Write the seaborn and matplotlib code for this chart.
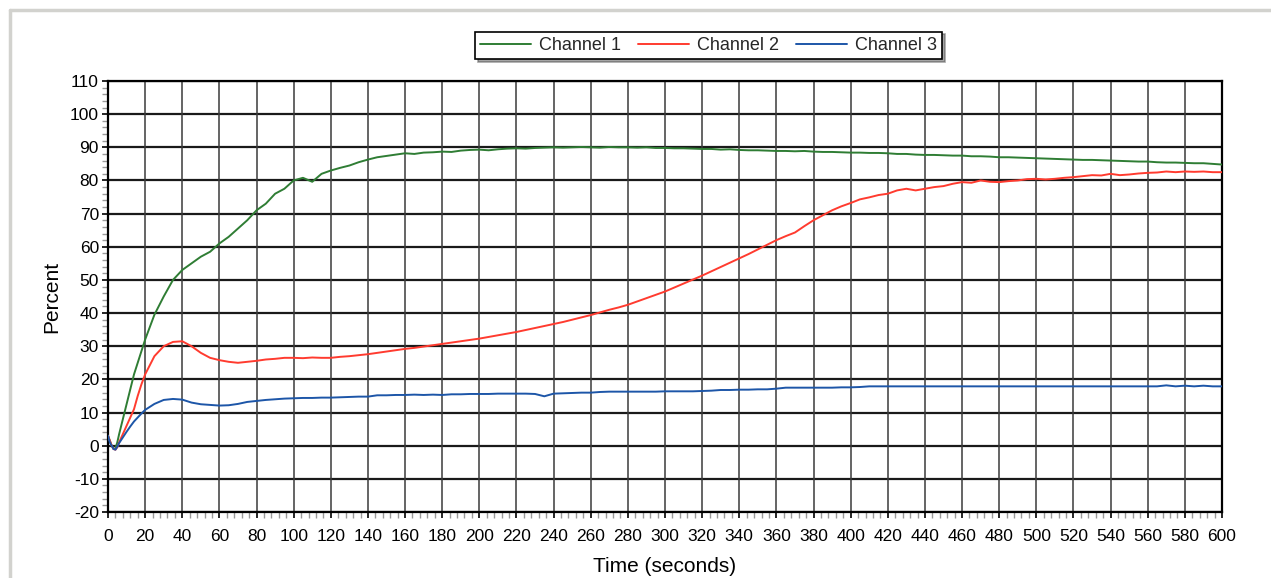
import matplotlib
matplotlib.use("Agg")
import matplotlib.pyplot as plt
from matplotlib.lines import Line2D
from matplotlib.ticker import MultipleLocator
import seaborn as sns
import pandas as pd

# ---------------- data ----------------
time_s = [0, 1, 2, 3, 4, 5, 6, 8, 10, 12, 14, 16, 18] + list(range(20, 601, 5))

channel1 = [3.0, 1.5, 0.0, -1.0, -0.8, 1.0, 3.5, 8.0, 12.5, 17.0, 21.5, 25.0, 28.5,
            32.0, 39.5, 45.0, 50.0, 53.0, 55.0, 57.0, 58.5, 61.0, 63.0, 65.5, 68.0,
            71.0, 73.0, 76.0, 77.5, 80.0, 80.8, 79.6, 82.0, 83.0, 83.8, 84.5, 85.5,
            86.3, 87.0, 87.4, 87.8, 88.2, 88.0, 88.4, 88.5, 88.7, 88.6, 89.0, 89.2,
            89.3, 89.1, 89.4, 89.6, 89.7, 89.6, 89.8, 89.9, 90.0, 89.9, 90.0, 90.1,
            90.0, 89.9, 90.1, 90.0, 90.0, 89.9, 90.0, 89.8, 89.8, 89.7, 89.7, 89.6,
            89.5, 89.5, 89.3, 89.4, 89.2, 89.1, 89.1, 89.0, 88.9, 88.9, 88.8, 88.9,
            88.7, 88.6, 88.6, 88.5, 88.4, 88.4, 88.3, 88.3, 88.2, 88.0, 88.0, 87.8,
            87.7, 87.7, 87.6, 87.5, 87.5, 87.3, 87.3, 87.2, 87.0, 87.0, 86.9, 86.8,
            86.7, 86.6, 86.5, 86.4, 86.3, 86.2, 86.2, 86.1, 86.0, 85.9, 85.8, 85.7,
            85.7, 85.5, 85.4, 85.4, 85.3, 85.2, 85.2, 85.0, 84.8]

channel2 = [3.0, 1.5, 0.0, -1.0, -1.2, -0.5, 1.0, 3.5, 6.0, 8.5, 11.0, 15.0, 18.5,
            21.5, 27.0, 30.0, 31.3, 31.5, 30.0, 28.0, 26.5, 25.8, 25.3, 25.0, 25.3,
            25.6, 26.0, 26.2, 26.5, 26.5, 26.4, 26.6, 26.5, 26.5, 26.8, 27.0, 27.3,
            27.6, 28.0, 28.4, 28.8, 29.2, 29.5, 29.9, 30.3, 30.7, 31.1, 31.5, 31.9,
            32.3, 32.8, 33.3, 33.8, 34.3, 34.9, 35.5, 36.1, 36.7, 37.3, 38.0, 38.7,
            39.4, 40.2, 41.0, 41.7, 42.5, 43.5, 44.5, 45.5, 46.5, 47.7, 48.9, 50.1,
            51.3, 52.6, 53.9, 55.2, 56.5, 57.8, 59.2, 60.6, 62.0, 63.2, 64.3, 66.2,
            68.0, 69.5, 71.0, 72.2, 73.2, 74.3, 74.9, 75.6, 76.0, 77.0, 77.5, 77.0,
            77.5, 78.0, 78.3, 79.0, 79.5, 79.3, 80.0, 79.6, 79.5, 79.8, 80.0, 80.4,
            80.5, 80.3, 80.5, 80.8, 81.0, 81.3, 81.6, 81.5, 82.0, 81.6, 81.8, 82.1,
            82.3, 82.4, 82.7, 82.5, 82.7, 82.6, 82.7, 82.5, 82.5]

channel3 = [3.0, 1.0, 0.0, -1.0, -1.2, -0.3, 0.8, 2.5, 4.2, 5.8, 7.3, 8.5, 9.7,
            10.8, 12.6, 13.8, 14.1, 13.9, 13.0, 12.5, 12.3, 12.1, 12.2, 12.6, 13.2,
            13.5, 13.8, 14.0, 14.2, 14.3, 14.4, 14.4, 14.5, 14.5, 14.6, 14.7, 14.8,
            14.8, 15.2, 15.2, 15.3, 15.3, 15.4, 15.3, 15.4, 15.3, 15.5, 15.5, 15.6,
            15.6, 15.6, 15.7, 15.7, 15.7, 15.7, 15.6, 14.9, 15.7, 15.8, 15.9, 16.0,
            16.0, 16.2, 16.3, 16.3, 16.3, 16.3, 16.3, 16.3, 16.4, 16.4, 16.4, 16.4,
            16.5, 16.6, 16.8, 16.8, 16.9, 16.9, 17.0, 17.0, 17.2, 17.5, 17.5, 17.5,
            17.5, 17.5, 17.5, 17.6, 17.6, 17.7, 17.9, 17.9, 17.9, 17.9, 17.9, 17.9,
            17.9, 17.9, 17.9, 17.9, 17.9, 17.9, 17.9, 17.9, 17.9, 17.9, 17.9, 17.9,
            17.9, 17.9, 17.9, 17.9, 17.9, 17.9, 17.9, 17.9, 17.9, 17.9, 17.9, 17.9,
            17.9, 17.9, 18.2, 17.9, 18.1, 17.9, 18.1, 17.9, 17.9]

series_names = ["Channel 1", "Channel 2", "Channel 3"]
series_colors = ["#2f7d34", "#ff3b2f", "#1d56a8"]

y_ticks = list(range(-20, 111, 10))
x_ticks = list(range(0, 601, 20))

# ---------------- build frame ----------------
rows = []
for name, vals in zip(series_names, [channel1, channel2, channel3]):
    for t, v in zip(time_s, vals):
        rows.append({"Time": t, "Percent": v, "Channel": name})
df = pd.DataFrame(rows)

sns.set_theme(style="white")
plt.rcParams["font.family"] = ["Liberation Sans", "DejaVu Sans"]
plt.rcParams["axes.unicode_minus"] = False

fig = plt.figure(figsize=(12.71, 5.78), dpi=100)
ax = fig.add_axes([108 / 1271, 1 - 512 / 578, (1222 - 108) / 1271, (512 - 81) / 578])

sns.lineplot(data=df, x="Time", y="Percent", hue="Channel",
             palette=dict(zip(series_names, series_colors)),
             linewidth=1.4, ax=ax, legend=False, estimator=None, zorder=3)

ax.set_xlim(0, 600)
ax.set_ylim(-20, 110)
ax.set_xticks(x_ticks)
ax.set_yticks(y_ticks)
ax.xaxis.set_minor_locator(MultipleLocator(4))
ax.yaxis.set_minor_locator(MultipleLocator(2))

ax.grid(False)
for y in y_ticks:
    ax.axhline(y, color="#1a1a1a", lw=1.6, zorder=1)
for x in x_ticks:
    ax.axvline(x, color="#3a3a3a", lw=1.1, zorder=1)

for s in ax.spines.values():
    s.set_color("black")
    s.set_linewidth(1.6)

ax.tick_params(axis="both", which="major", direction="out", length=4.5, width=1.2,
               color="black", labelsize=12.5, labelcolor="black")
ax.tick_params(axis="y", which="major", pad=2)
ax.tick_params(axis="x", which="major", pad=8)
ax.tick_params(axis="both", which="minor", direction="out", length=4, width=1.0,
               color="#9a9a9a")
ax.tick_params(left=True, bottom=True, which="both")

ax.set_xlabel("Time (seconds)", fontsize=15, color="black", labelpad=9)
ax.set_ylabel("Percent", fontsize=15, color="black", labelpad=6)

handles = [Line2D([0], [0], color=c, lw=1.4) for c in series_colors]
leg = fig.legend(handles, series_names, loc="center", ncol=3,
                 bbox_to_anchor=(708.5 / 1271, 1 - 45.5 / 578),
                 fontsize=13, frameon=True, fancybox=False, shadow=True,
                 edgecolor="black", handlelength=2.8, handletextpad=0.45,
                 columnspacing=0.95, borderpad=0.3, borderaxespad=0)
leg.get_frame().set_linewidth(1.2)

# gray panel border (top and left)
fig.add_artist(Line2D([10 / 1271, 1], [1 - 10 / 578, 1 - 10 / 578],
                      transform=fig.transFigure, color="#d2d2ce", lw=2.5))
fig.add_artist(Line2D([10 / 1271, 10 / 1271], [0, 1 - 10 / 578],
                      transform=fig.transFigure, color="#d2d2ce", lw=2.5))

fig.savefig("out.png", dpi=100)
